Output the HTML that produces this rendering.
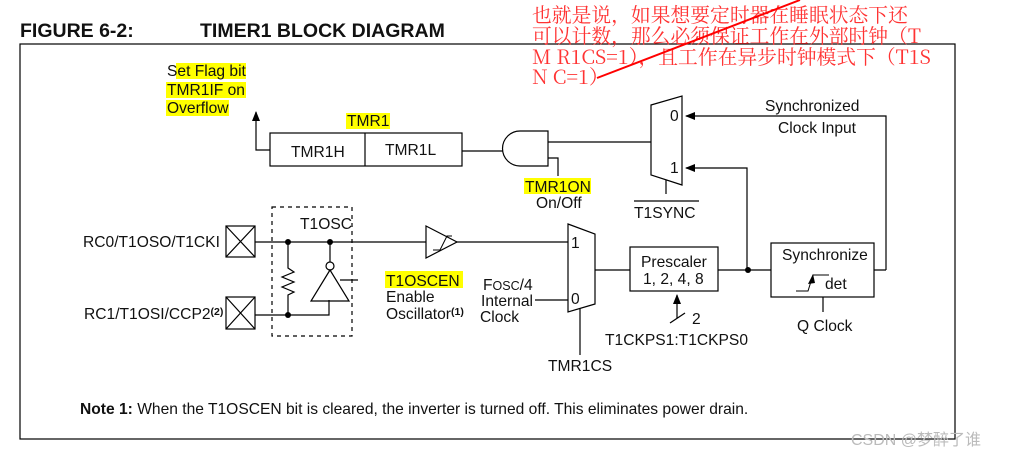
<!DOCTYPE html>
<html><head><meta charset="utf-8"><style>
html,body{margin:0;padding:0;background:#fff;}
svg{display:block;}
text{font-family:"Liberation Sans",sans-serif;font-size:15.6px;fill:#111;}
.cn{font-family:"Noto Serif CJK SC","Liberation Serif",serif;font-size:19.8px;fill:#f33;}
</style></head><body>
<svg width="1018" height="459" viewBox="0 0 1018 459" xmlns="http://www.w3.org/2000/svg">
<defs><marker id="ar" markerWidth="10" markerHeight="8" refX="9" refY="4" orient="auto" markerUnits="userSpaceOnUse"><path d="M0,0 L10,4 L0,8 Z" fill="#000"/></marker></defs>
<g stroke="#000" stroke-width="1.2" fill="none">
<rect x="20" y="44" width="935" height="395"/>
</g>
<text x="20" y="37" style="font-weight:bold;font-size:19.5px">FIGURE 6-2:</text>
<text x="200" y="37" style="font-weight:bold;font-size:19.5px">TIMER1 BLOCK DIAGRAM</text>
<g fill="#ffff00">
<rect x="176" y="63" width="70" height="16"/><rect x="166" y="82" width="80" height="16"/><rect x="166" y="100" width="63" height="16"/>
<rect x="346" y="113" width="44" height="16"/>
<rect x="524" y="178" width="67" height="16"/>
<rect x="385" y="271" width="78" height="17"/>
</g>
<text x="167" y="76">Set Flag bit</text>
<text x="167" y="95">TMR1IF on</text>
<text x="167" y="113">Overflow</text>
<text x="347" y="126">TMR1</text>
<text x="291" y="157">TMR1H</text>
<text x="385" y="155">TMR1L</text>
<g stroke="#000" stroke-width="1.2" fill="none">
<path d="M270,150 H256 V112" marker-end="url(#ar)"/>
<rect x="270" y="133" width="192" height="33"/><line x1="365" y1="133" x2="365" y2="166"/>
<line x1="462" y1="151" x2="503" y2="151"/>
<path d="M548,131 H520 A17.5,17.5 0 0 0 520,166 H548 Z"/>
<line x1="548" y1="142" x2="651" y2="142"/>
<path d="M548,158 H558 V176"/>
<path d="M651,105 L682,96 L682,185 L651,175 Z"/>
<path d="M886,270 H874 M886,270 V116 H686" marker-end="url(#ar)"/>
<path d="M747,270 V168 H686" marker-end="url(#ar)"/>
<line x1="666" y1="180" x2="666" y2="194"/>
<line x1="634" y1="201" x2="699" y2="201"/>
<rect x="226" y="226" width="29" height="31"/><path d="M226,226 L255,257 M255,226 L226,257"/>
<rect x="226" y="297" width="29" height="32"/><path d="M226,297 L255,329 M255,297 L226,329"/>
<line x1="255" y1="242" x2="426" y2="242"/>
<line x1="456" y1="242" x2="568" y2="242"/>
<rect x="272" y="207" width="80" height="129" stroke-dasharray="4,4"/>
<path d="M255,315 H329 V300"/>
<path d="M288,242 V268 L294,272 L282,277 L294,282 L282,287 L294,292 L288,295 V315"/>
<path d="M330,242 V262"/>
<circle cx="330" cy="266" r="4" fill="#fff"/>
<path d="M330,270 L311,301 L349,301 Z"/>
<line x1="340" y1="280" x2="358" y2="280"/>
<path d="M426,226 L457,242 L426,258 Z"/>
<path d="M433,250 L440,250 L447,236 L452,236" stroke-width="1"/>
<path d="M568,224 L595,234 L595,304 L568,312 Z"/>
<line x1="535" y1="300" x2="568" y2="300"/>
<line x1="580" y1="308" x2="580" y2="355"/>
<line x1="595" y1="270" x2="630" y2="270"/>
<rect x="630" y="247" width="88" height="44"/>
<line x1="718" y1="270" x2="771" y2="270"/>
<rect x="771" y="243" width="103" height="54"/>
<line x1="823" y1="297" x2="823" y2="312"/>
<path d="M796,291 H808 L813,275 H829" stroke-width="1"/>
<path d="M677,318 V295" marker-end="url(#ar)"/>
<line x1="670" y1="323" x2="685" y2="313"/>
</g>
<g fill="#000">
<circle cx="288" cy="242" r="3"/><circle cx="330" cy="242" r="3"/><circle cx="288" cy="315" r="3"/><circle cx="748" cy="270" r="3"/>
<path d="M808,284 L813,274 L815,283 Z"/>
</g>
<text x="670" y="121">0</text><text x="670" y="173">1</text>
<text x="765" y="111">Synchronized</text>
<text x="778" y="133">Clock Input</text>
<text x="525" y="192">TMR1ON</text>
<text x="536" y="208">On/Off</text>
<text x="634" y="218">T1SYNC</text>
<text x="83" y="247">RC0/T1OSO/T1CKI</text>
<text x="84" y="319">RC1/T1OSI/CCP2<tspan dy="-4" style="font-size:10.5px;font-weight:bold">(2)</tspan></text>
<text x="300" y="229">T1OSC</text>
<text x="386" y="286">T1OSCEN</text>
<text x="386" y="302">Enable</text>
<text x="386" y="319">Oscillator<tspan dy="-4" style="font-size:10.5px;font-weight:bold">(1)</tspan></text>
<text x="483" y="290">F<tspan style="font-size:12.5px">OSC</tspan>/4</text>
<text x="481" y="306">Internal</text>
<text x="480" y="322">Clock</text>
<text x="571" y="248">1</text><text x="571" y="304">0</text>
<text x="548" y="371">TMR1CS</text>
<text x="641" y="267">Prescaler</text>
<text x="643" y="284">1, 2, 4, 8</text>
<text x="782" y="260">Synchronize</text>
<text x="825" y="289">det</text>
<text x="797" y="331">Q Clock</text>
<text x="692" y="324">2</text>
<text x="605" y="345">T1CKPS1:T1CKPS0</text>
<text x="80" y="414"><tspan style="font-weight:bold">Note 1:</tspan>  When the T1OSCEN bit is cleared, the inverter is turned off. This eliminates power drain.</text>
<text x="851" y="445" style="fill:#bbb;font-size:16px;font-family:'Liberation Sans','Noto Sans CJK SC',sans-serif">CSDN @梦醉了谁</text>
<text class="cn" x="532" y="22">也就是说，如果想要定时器在睡眠状态下还</text>
<text class="cn" x="532" y="43">可以计数，那么必须保证工作在外部时钟（T</text>
<text class="cn" x="532" y="64">M R1CS=1），且工作在异步时钟模式下（T1S</text>
<text class="cn" x="532" y="84">N C=1）</text>
<line x1="597" y1="78" x2="800" y2="0" stroke="#f00" stroke-width="2"/>
</svg>
</body></html>
